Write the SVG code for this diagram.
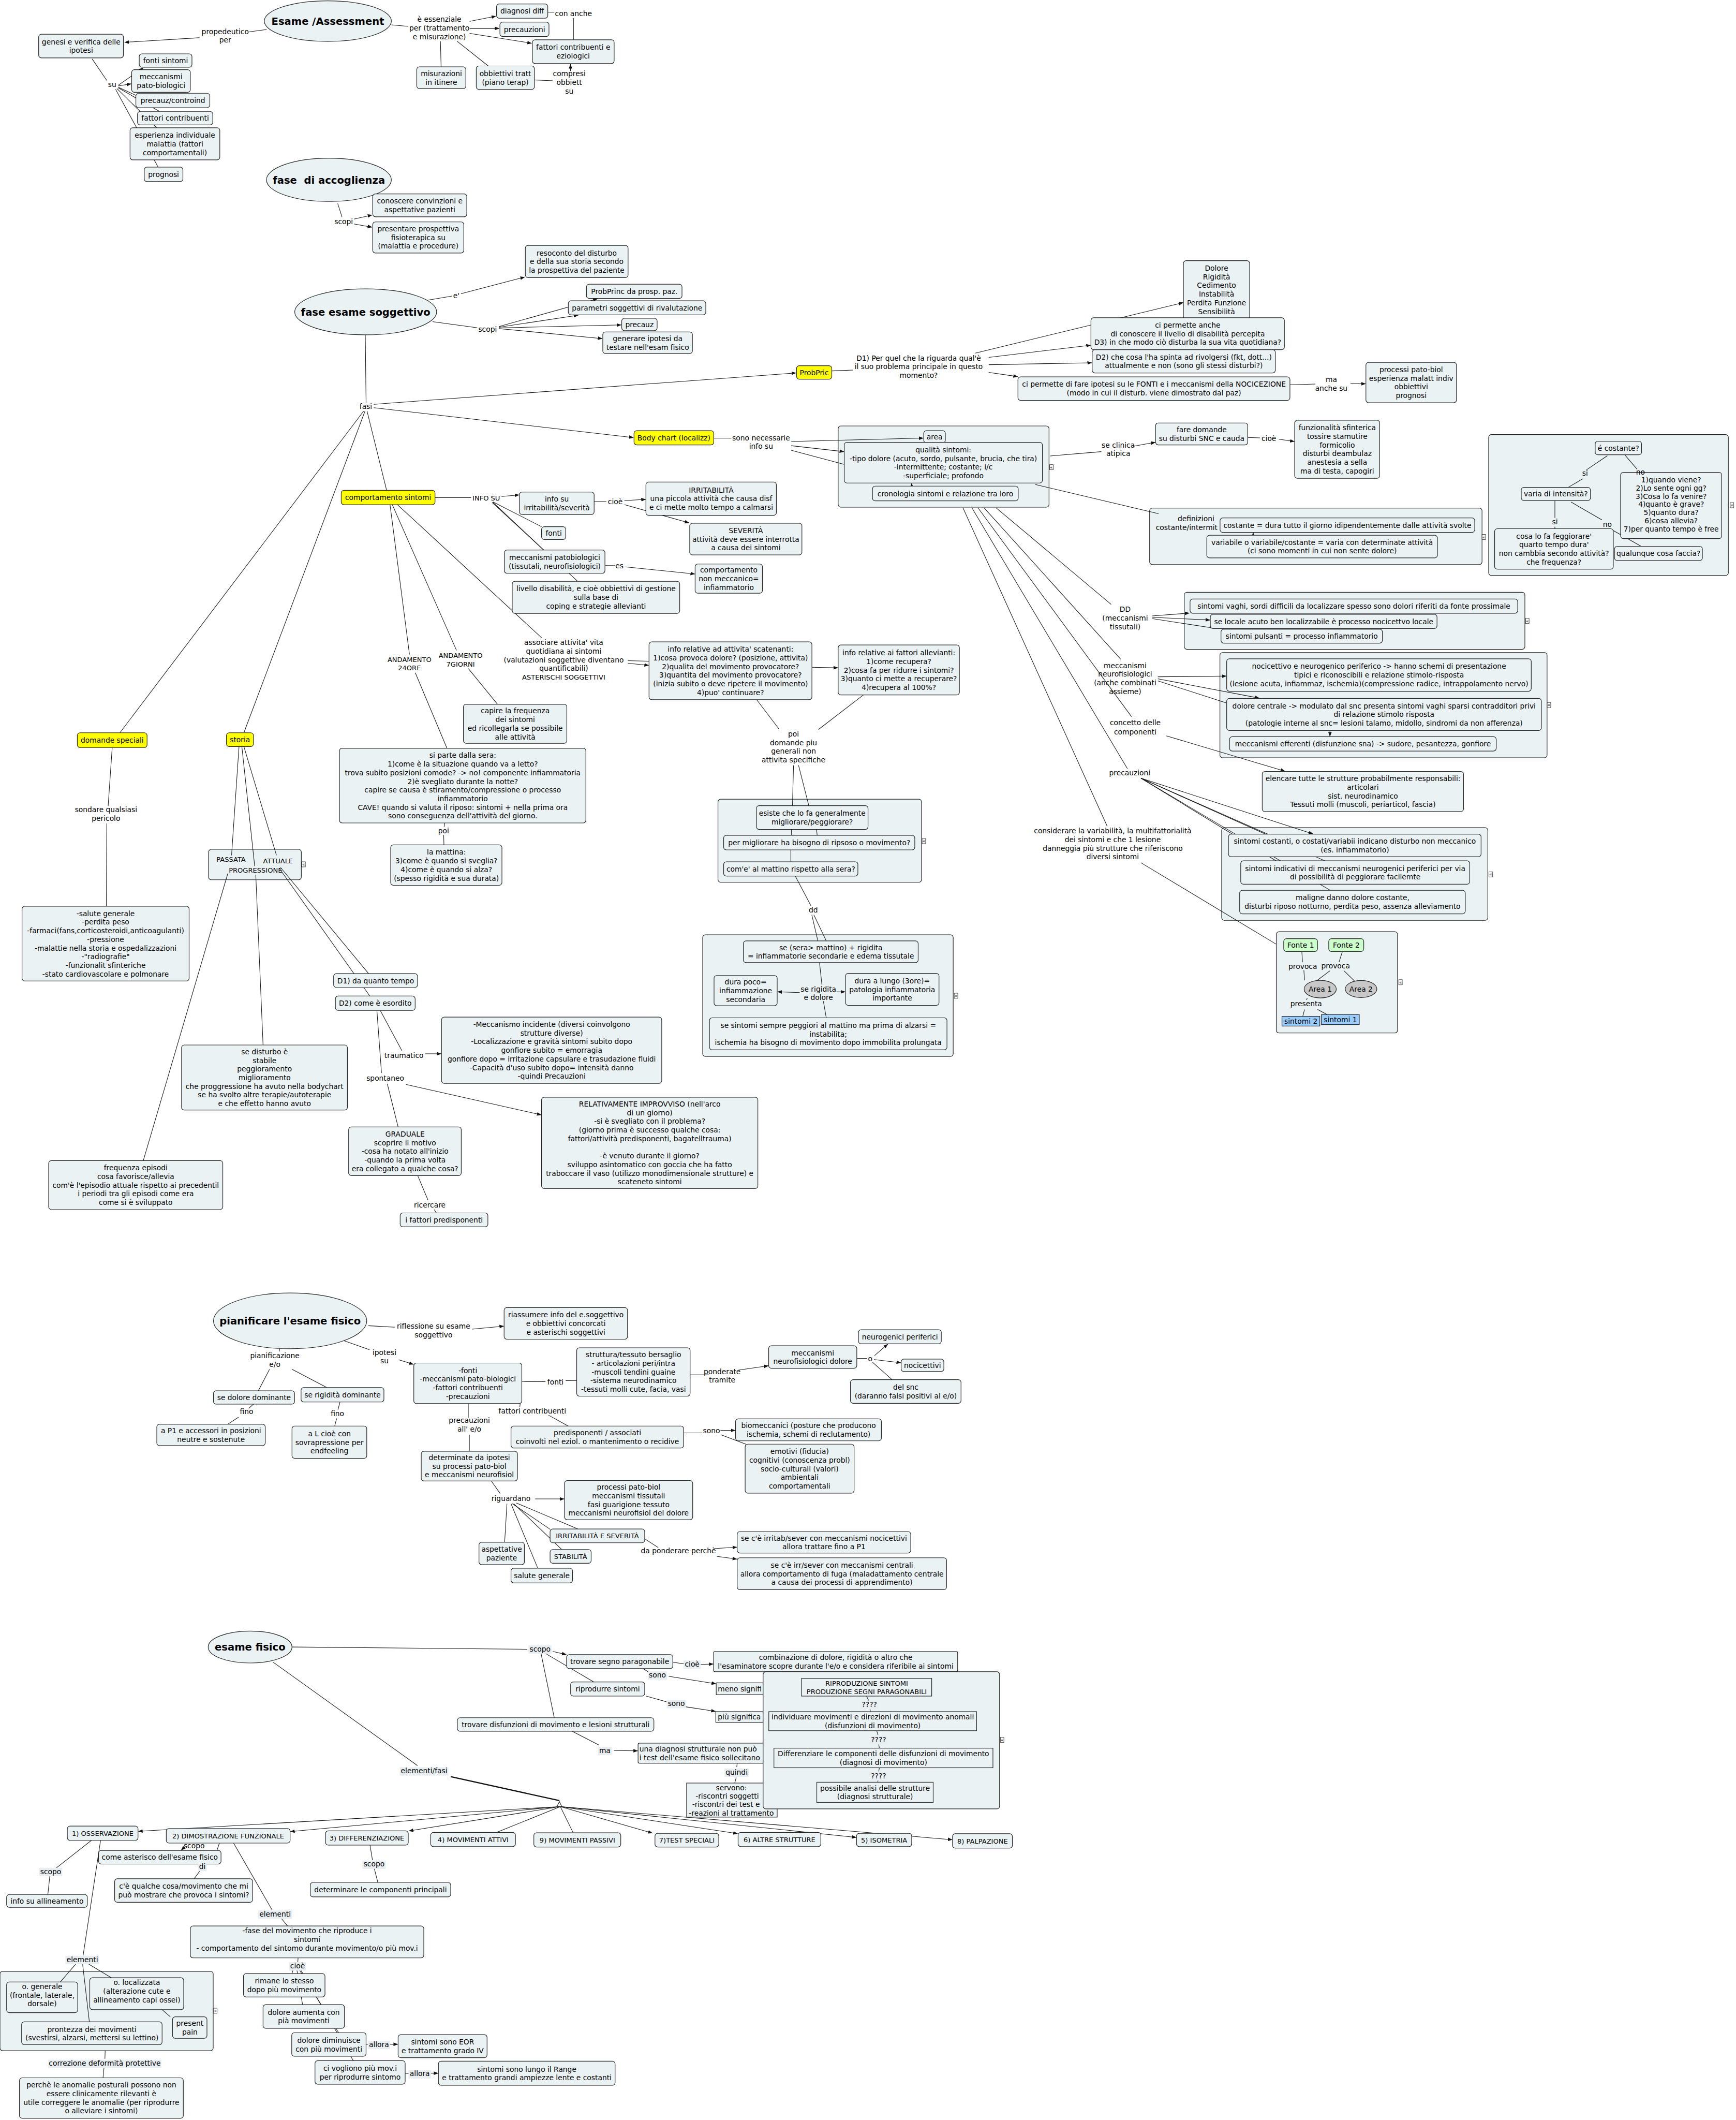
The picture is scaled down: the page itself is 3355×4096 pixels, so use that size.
<svg xmlns="http://www.w3.org/2000/svg" xmlns:xlink="http://www.w3.org/1999/xlink" width="3355" height="4096" viewBox="0 0 3355 4096">
<style>
text{font-family:"DejaVu Sans",sans-serif;font-size:5.3px;text-anchor:middle;fill:#000}
.k{font-size:5px}
.ti{font-size:7.5px;font-weight:bold}
.nd rect,.nd ellipse{fill:#ebf2f4;stroke:#222;stroke-width:0.45}
.cn{fill:#ebf2f4;stroke:#222;stroke-width:0.45}
.yl rect{fill:#ffff00}
.gr rect{fill:#ccffcc}
.bl rect{fill:#99ccff}
.ga ellipse{fill:#c8c8c8}
.lbg{fill:#e8eef1;stroke:none}
#connectors path,#connectors_inner path{fill:none;stroke:#111;stroke-width:0.4}
#connectors .ar path{marker-end:url(#ah)}
#connectors .thick{stroke-width:0.9}
</style>
<defs>
<marker id="ah" viewBox="0 0 10 10" refX="9.5" refY="5" markerWidth="3.4" markerHeight="3.4" markerUnits="userSpaceOnUse" orient="auto"><path d="M0,1.2 L10,5 L0,8.8 z" fill="#111"/></marker>
<g id="col"><rect x="-1.3" y="-1.9" width="2.6" height="3.8" fill="#fff" stroke="#222" stroke-width="0.3"/><text x="0" y="1.2" style="font-size:3.4px">«</text></g>
</defs>
<rect width="3355" height="4096" fill="#fff"/>
<g transform="scale(2.6126)">

<!-- containers -->
<g id="containers">
<g id="c_area"><rect class="cn" x="620" y="315" width="156" height="60.1" rx="2"/><use xlink:href="#col" x="777.8" y="345.5"/></g>
<g id="c_def"><rect class="cn" x="850.4" y="375.7" width="245.9" height="41.8" rx="2"/><use xlink:href="#col" x="1097.6" y="397.1"/><text x="884.7" y="385.6">definizioni</text><text x="855" y="391.8" style="text-anchor:start">costante/intermit</text></g>
<g id="c_costante"><rect class="cn" x="1101.2" y="321.4" width="177.3" height="104.2" rx="2"/><use xlink:href="#col" x="1281.2" y="373.6"/></g>
<g id="c_dd"><rect class="cn" x="876" y="438" width="252" height="42.2" rx="2"/><use xlink:href="#col" x="1129.8" y="459.2"/></g>
<g id="c_mecc"><rect class="cn" x="902.4" y="482.6" width="242" height="77.8" rx="2"/><use xlink:href="#col" x="1145.8" y="521.4"/></g>
<g id="c_prec"><rect class="cn" x="903.7" y="612.1" width="196.9" height="68.5" rx="2"/><use xlink:href="#col" x="1102.7" y="646.6"/></g>
<g id="c_fonte"><rect class="cn" x="944.1" y="689" width="89.7" height="74.9" rx="2"/><use xlink:href="#col" x="1036" y="726.4"/></g>
<g id="c_esiste"><rect class="cn" x="531.1" y="591" width="150.6" height="61.5" rx="2"/><use xlink:href="#col" x="683.4" y="622"/></g>
<g id="c_dd2"><rect class="cn" x="519.8" y="691.3" width="185.3" height="90" rx="2"/><use xlink:href="#col" x="707.2" y="736.4"/></g>
<g id="c_passata"><rect class="cn" x="154.3" y="628.1" width="68.6" height="22.5" rx="2"/><use xlink:href="#col" x="224.6" y="639.2"/></g>
<g id="c_elementi"><rect class="cn" x="0" y="1457.8" width="157.7" height="58.7" rx="2"/><use xlink:href="#col" x="159.3" y="1487"/></g>
</g>

<!-- connectors -->
<g id="connectors">
<g class="ln">
<path d="M197.3,21.8L184.4,23.5"/><path d="M68.2,43.6L79,59.5"/><path d="M87.5,64.5L100.5,70.5"/><path d="M87.5,65L118,82.4"/><path d="M86.5,65.5L116,94.5"/><path d="M85.5,66L117,123.6"/>
<path d="M289.6,18.4L302,19.5"/><path d="M325.8,30.5L326.3,49.4"/><path d="M338,30.4L361.2,48.8"/><path d="M405.2,9L410,9"/><path d="M424.2,13.4L424.2,29.4"/><path d="M395.3,59.1L408.8,59.7"/>
<path d="M249.8,150.5L253,160.5"/><path d="M316.8,221.9L334.5,218.9"/><path d="M320,237.9L353,242.4"/><path d="M270.2,247.6L270.8,297.8"/>
<path d="M271.5,304L286,362.6"/><path d="M270,304L180.4,541.9"/><path d="M269,304L88.7,541.9"/>
<path d="M615.3,274.3L631,273.7"/><path d="M954.2,284.6L973,284"/><path d="M528,324L541,324"/><path d="M585.3,333L624.5,343.4"/><path d="M776.9,337.2L814.7,334"/><path d="M923,323.5L932,323.8"/><path d="M765.7,358.3L857,379.9"/>
<path d="M1189,337L1173.5,347.5"/><path d="M1171,354L1160,360.4"/><path d="M1202,336.5L1211,347"/><path d="M1150.2,370.2L1150.2,383"/><path d="M1150.2,389.5L1150.2,391"/><path d="M1162.2,371.3L1185,384.5"/><path d="M1191,391L1214,404"/>
<path d="M736.8,375.5L822,447"/><path d="M727.9,375.5L829,487.5"/><path d="M723.4,375.5L837,530"/><path d="M718.9,375.5L834,568.5"/><path d="M712.3,375.5L819,611"/>
<path d="M852.4,457.5L897,464.4"/><path d="M856.5,503.5L907,519.8"/>
<path d="M844,575.5L944,636.6"/><path d="M844,575.5L980,636.6"/><path d="M844,575.5L984,658.4"/><path d="M844,575.5L937.9,616.9"/><path d="M844,638L944.1,698.3"/>
<path d="M963,703.7L963.5,711.5"/><path d="M964.5,717.5L965,725"/><path d="M993,703.7L990.5,711.5"/><path d="M983.8,717.9L973.3,725.8"/><path d="M994.2,717.9L1002,725.5"/><path d="M967,738L966.5,739.5"/><path d="M965,746.5L963.7,751.6"/><path d="M974.6,746.5L981.7,750.3"/>
<path d="M321.8,368L348.5,368"/><path d="M364.7,371.2L400.6,389.5"/><path d="M364.7,371.5L402.1,406.7"/><path d="M364,371.5L427.3,429.9"/><path d="M439.5,371L448.5,371"/><path d="M447.5,418.3L455,418.3"/>
<path d="M288.5,373.2L302.9,484"/><path d="M290.2,373.2L337.7,481"/><path d="M294,373.2L400.6,471.6"/><path d="M307.2,497.5L330.6,553.3"/><path d="M346.5,494.5L368,520.8"/><path d="M329,608.6L328.5,611.5"/><path d="M328.2,617.5L328.4,624.8"/>
<path d="M464.5,488.6L480,489"/><path d="M559.7,517.4L576.3,539.2"/><path d="M638.7,513.9L605.4,539.5"/><path d="M587,566L586.2,595.8"/><path d="M590.7,566L598.3,595.8"/>
<path d="M585.5,613.4L585.5,617.7"/><path d="M604,613.4L604.5,617.7"/><path d="M585,628.5L585,637.3"/><path d="M588.3,647.9L599.9,669.8"/><path d="M602,676.5L611.2,695.8"/><path d="M600.5,676.5L605,695.8"/><path d="M606.2,711.9L608,728.3"/><path d="M609.1,740.5L611.2,752.7"/>
<path d="M83,552.8L80,596"/><path d="M79,609L78.7,670.2"/><path d="M176.8,552.1L171.3,632.5"/><path d="M168.5,646L106,858.3"/><path d="M178.9,552.1L188.4,640.5"/><path d="M189.2,647L194.6,772.8"/><path d="M180.4,552.1L204.5,632.5"/><path d="M207.5,641.5L272.7,720"/><path d="M206.5,642L273.6,736.6"/>
<path d="M281.3,747.2L297.3,777"/><path d="M278.8,747.2L282.2,793.5"/><path d="M286.5,801.5L294.5,833.4"/><path d="M309,869.4L316.6,887.5"/><path d="M321.2,894.5L322.8,897"/>
<path d="M272.5,980.4L292,981.5"/><path d="M206.9,997.3L206.5,999.5"/><path d="M199.4,1012.6L191.1,1028.5"/><path d="M216,1012.6L241.7,1026.1"/><path d="M187.5,1038.4L184,1041.5"/><path d="M176.4,1048.1L168.5,1053.2"/><path d="M251.5,1036.8L250,1042.5"/><path d="M249,1049L247.6,1054.6"/>
<path d="M253.5,991.2L273.3,998.1"/><path d="M386,1021.6L403.5,1021.8"/><path d="M418.5,1021L426.6,1020.9"/><path d="M510.5,1016.7L524.5,1016.7"/><path d="M633.8,1004.6L641.5,1004.6"/><path d="M645.5,1007.5L659.9,1020.3"/>
<path d="M384.8,1038L384.5,1040.5"/><path d="M405.7,1046.5L420.3,1054.6"/><path d="M346.4,1038L346.4,1048.5"/><path d="M347.2,1061L347.2,1073.2"/><path d="M505.7,1059.7L519.5,1059.7"/><path d="M533.5,1061.1L552,1068.1"/>
<path d="M363.4,1095.2L370,1104.5"/><path d="M375,1112L373.3,1140.5"/><path d="M378,1112L397.8,1159.7"/><path d="M380,1112L415.6,1145.9"/><path d="M382,1111.5L427.4,1130.7"/><path d="M379,1112L407,1131"/><path d="M476.9,1138L487,1144.5"/>
<path d="M216,1218L390,1219.7"/><path d="M400.2,1222.7L410,1270.3"/><path d="M403,1222.5L439.1,1243.8"/><path d="M497.7,1229.2L506,1230.5"/><path d="M475.8,1234L480.5,1237"/><path d="M478,1254.3L493,1258.5"/><path d="M423.3,1280.3L443,1290.5"/>
<path d="M545.3,1303.9L545,1306.8"/><path d="M544.6,1314.5L543.5,1318.6"/>
<path d="M202,1229.2L308.8,1305.7"/><path class="thick" d="M333.4,1313.9L413.8,1331.6"/><path d="M414.5,1336L367.4,1355.1"/><path d="M414.5,1336L424,1355.4"/>
<path d="M67.6,1361L41.5,1381.5"/><path d="M37,1386L35.4,1401"/><path d="M74.4,1361L61.5,1446"/><path d="M56.9,1451.5L44.6,1465.7"/><path d="M64,1451.5L82.4,1462.6"/><path d="M61,1451.5L66.1,1495.2"/><path d="M119.9,1486.2L126,1491.5"/><path d="M77.8,1516.5L77.6,1522.5"/><path d="M77,1528.5L76.2,1536.6"/>
<path d="M162.3,1363L160.5,1368.4"/><path d="M149,1382L143.6,1389.4"/><path d="M172.8,1363L201.3,1412.5"/><path d="M208.1,1418.7L212.7,1424.3"/><path d="M220.5,1447.9L220.3,1451"/><path d="M217,1456L216,1459.5"/><path d="M219.5,1456L223.8,1482.5"/><path d="M221,1456L250.5,1503.2"/><path d="M222,1456L261.3,1523.9"/>
<path d="M270.8,1511.8L272.8,1511.8"/><path d="M299.7,1533.3L302.5,1533.3"/><path d="M273.7,1364.5L275.5,1375.5"/><path d="M276.8,1381.5L279.5,1392.1"/>
<path d="M413.8,1332.3L411.9,1336.2L415.7,1336.2z" fill="#fff"/>
</g>
<g class="ar">
<path d="M147.6,27.9L92.2,31.3"/><path d="M87.5,63L106,50.2"/><path d="M87.5,63.5L97,62"/>
<path d="M347.4,15.8L366.8,12"/><path d="M347.4,21L369.3,21"/><path d="M347.4,24.7L393.3,32"/><path d="M422,52.5L422,47.5"/>
<path d="M261.9,162L275.2,159"/><path d="M261.9,165.6L275.2,168"/><path d="M341,217.2L388.1,204.9"/>
<path d="M369,241.5L441.9,221"/><path d="M369,242L427.7,233.1"/><path d="M369,242.5L459.5,240.3"/><path d="M369,243L445.5,250.4"/>
<path d="M276.5,299L588.8,275.8"/><path d="M276.5,301.5L468.6,323.6"/>
<path d="M721.5,261.1L875.2,223.8"/><path d="M731.4,264.3L806.8,255.3"/><path d="M731.4,269.7L807.6,268.3"/><path d="M731.4,275.4L752.8,278.5"/><path d="M999,283.8L1010.2,283.8"/>
<path d="M585.3,326.5L683,324"/><path d="M585.3,329.6L624.3,334"/><path d="M838.3,330L854.6,327.1"/><path d="M946,324.8L957.5,326.5"/><path d="M674.4,361L674.4,357.4"/><path d="M927,396.5L927,393.9"/>
<path d="M852.4,455.5L879.8,453.4"/><path d="M852.4,456.5L895,458.5"/><path d="M856.5,500.5L907.2,500"/><path d="M856.5,502L931.6,516.3"/><path d="M983.8,539.5L983.8,544.6"/><path d="M862.8,544.2L950.4,570.3"/><path d="M844,575.5L971.3,616.7"/>
<path d="M371,367.2L384,366"/><path d="M461.9,370.2L477.6,369.3"/><path d="M461.9,373.2L509.8,386.7"/><path d="M462.7,419.2L514,424.5"/>
<path d="M464.5,490.5L479.9,492"/><path d="M600.6,493.5L619.8,493.9"/><path d="M591.6,734L575.2,733.5"/><path d="M618.7,733.5L625.2,733.5"/>
<path d="M314.5,779.3L326.4,779.3"/><path d="M300.3,802L400.4,824.5"/>
<path d="M349.2,982.9L372.7,980.7"/><path d="M295,1005.6L305.9,1009"/><path d="M546,1013.3L568.4,1010"/><path d="M646.9,1002.5L656.7,994"/><path d="M646.5,1005.4L666.4,1007.8"/><path d="M533,1057.8L543.9,1057.8"/><path d="M395.8,1108.5L417.4,1108.5"/><path d="M528.3,1145.2L545.1,1144.2"/><path d="M530.2,1151L545.1,1153"/>
<path d="M408.9,1221.3L418.9,1223.6"/><path d="M518.4,1230.9L527.7,1230.6"/><path d="M494.7,1239.7L529.6,1245.2"/><path d="M507.1,1262.2L529.3,1265.6"/><path d="M454.2,1294.6L471.8,1294.8"/>
<path d="M414.5,1336L102.3,1354.3"/><path d="M414.5,1336L214.8,1354.5"/><path d="M414.5,1336L302.5,1354"/><path d="M414.5,1336L482.6,1355.6"/><path d="M414.5,1336L545.6,1356"/><path d="M414.5,1336L633.4,1358.8"/><path d="M414.5,1336L704.4,1360.5"/>
<path d="M137,1365.5L134,1368.3"/><path d="M288.2,1511.8L294.3,1511.8"/><path d="M318.2,1533.2L324.1,1533.2"/>
</g>
</g>

<!-- nodes -->
<g id="nodes">
<g id="n_esame" class="nd"><ellipse cx="242.5" cy="15.6" rx="47" ry="15"/><text class="ti" x="242.5" y="18.3">Esame /Assessment</text></g>
<g id="n_genesi" class="nd"><rect x="28.6" y="25.3" width="62.7" height="17.5" rx="2"/><text x="60" y="32.8">genesi e verifica delle<tspan x="60" dy="6.4">ipotesi</tspan></text></g>
<g id="n_fontisint" class="nd"><rect x="103" y="39.8" width="39" height="9.9" rx="2"/><text x="122.5" y="46.6">fonti sintomi</text></g>
<g id="n_meccpb" class="nd"><rect x="97.4" y="51.5" width="43.4" height="16.8" rx="2"/><text x="119.1" y="58.6">meccanismi<tspan x="119.1" dy="6.4">pato-biologici</tspan></text></g>
<g id="n_precauzc" class="nd"><rect x="100.5" y="69" width="54.7" height="10.6" rx="2"/><text x="127.9" y="76.2">precauz/controind</text></g>
<g id="n_fattoric" class="nd"><rect x="101.7" y="82.4" width="55.7" height="10" rx="2"/><text x="129.6" y="89.3">fattori contribuenti</text></g>
<g id="n_esperienza" class="nd"><rect x="96.2" y="94.5" width="66.4" height="23.7" rx="2"/><text x="129.4" y="101.9">esperienza individuale<tspan x="129.4" dy="6.4">malattia (fattori</tspan><tspan x="129.4" dy="6.4">comportamentali)</tspan></text></g>
<g id="n_prognosi" class="nd"><rect x="106.7" y="123.6" width="28.6" height="10.7" rx="2"/><text x="121" y="130.9">prognosi</text></g>
<g id="n_diagnosi" class="nd"><rect x="367.3" y="2.9" width="37.9" height="10.6" rx="2"/><text x="386.3" y="10.1">diagnosi diff</text></g>
<g id="n_precauzioni" class="nd"><rect x="369.8" y="16.3" width="36.3" height="10.7" rx="2"/><text x="388" y="23.6">precauzioni</text></g>
<g id="n_fattoriez" class="nd"><rect x="393.8" y="29.4" width="60.5" height="17.6" rx="2"/><text x="424" y="36.9">fattori contribuenti e<tspan x="424" dy="6.4">eziologici</tspan></text></g>
<g id="n_misurazioni" class="nd"><rect x="308.3" y="49.4" width="36.3" height="16.2" rx="2"/><text x="326.5" y="56.2">misurazioni<tspan x="326.5" dy="6.4">in itinere</tspan></text></g>
<g id="n_obbiettivi" class="nd"><rect x="352.3" y="48.8" width="43" height="17.4" rx="2"/><text x="373.8" y="56.2">obbiettivi tratt<tspan x="373.8" dy="6.4">(piano terap)</tspan></text></g>

<g id="n_accoglienza" class="nd"><ellipse cx="243.3" cy="133" rx="46.2" ry="16"/><text class="ti" x="243.3" y="135.7" xml:space="preserve">fase  di accoglienza</text></g>
<g id="n_conoscere" class="nd"><rect x="275.7" y="143.4" width="69.6" height="16.9" rx="2"/><text x="310.5" y="150.6">conoscere convinzioni e<tspan x="310.5" dy="6.4">aspettative pazienti</tspan></text></g>
<g id="n_presentare" class="nd"><rect x="275.7" y="164.1" width="67.4" height="23" rx="2"/><text x="309.4" y="171.1">presentare prospettiva<tspan x="309.4" dy="6.4">fisioterapica su</tspan><tspan x="309.4" dy="6.4">(malattia e procedure)</tspan></text></g>

<g id="n_soggettivo" class="nd"><ellipse cx="270.5" cy="230.6" rx="52.5" ry="17"/><text class="ti" x="270.5" y="233.3">fase esame soggettivo</text></g>
<g id="n_resoconto" class="nd"><rect x="388.6" y="181.5" width="76" height="23.8" rx="2"/><text x="426.6" y="188.9">resoconto del disturbo<tspan x="426.6" dy="6.4">e della sua storia secondo</tspan><tspan x="426.6" dy="6.4">la prospettiva del paziente</tspan></text></g>
<g id="n_probprinc" class="nd"><rect x="433.8" y="210.2" width="70.7" height="10.5" rx="2"/><text x="469.2" y="217.4">ProbPrinc da prosp. paz.</text></g>
<g id="n_parametri" class="nd"><rect x="420.4" y="222.4" width="101.7" height="10.4" rx="2"/><text x="471.3" y="229.5">parametri soggettivi di rivalutazione</text></g>
<g id="n_precauz2" class="nd"><rect x="459.9" y="235.4" width="26.2" height="9.1" rx="2"/><text x="473" y="241.9">precauz</text></g>
<g id="n_generare" class="nd"><rect x="445.9" y="245.5" width="66.3" height="16" rx="2"/><text x="479.1" y="252.2">generare ipotesi da<tspan x="479.1" dy="6.4">testare nell'esam fisico</tspan></text></g>

<g id="n_probpric" class="nd yl"><rect x="589.2" y="270.5" width="26.1" height="9.9" rx="2"/><text x="602.3" y="277.4">ProbPric</text></g>
<g id="n_dolore" class="nd"><rect x="875.4" y="192.8" width="49" height="48" rx="2"/><text x="899.9" y="200.2">Dolore<tspan x="899.9" dy="6.4">Rigidità</tspan><tspan x="899.9" dy="6.4">Cedimento</tspan><tspan x="899.9" dy="6.4">Instabilità</tspan><tspan x="899.9" dy="6.4">Perdita Funzione</tspan><tspan x="899.9" dy="6.4">Sensibilità</tspan></text></g>
<g id="n_cipermette" class="nd"><rect x="807" y="235" width="143.1" height="23.6" rx="2"/><text x="878.6" y="242.3">ci permette anche<tspan x="878.6" dy="6.4">di conoscere il livello di disabilità percepita</tspan><tspan x="878.6" dy="6.4">D3) in che modo ciò disturba la sua vita quotidiana?</tspan></text></g>
<g id="n_d2" class="nd"><rect x="807.9" y="258.6" width="135.5" height="17.2" rx="2"/><text x="875.7" y="265.9">D2) che cosa l'ha spinta ad rivolgersi (fkt, dott...)<tspan x="875.7" dy="6.4">attualmente e non (sono gli stessi disturbi?)</tspan></text></g>
<g id="n_ipofonti" class="nd"><rect x="753" y="278.7" width="201.2" height="17.4" rx="2"/><text x="853.6" y="286.1">ci permette di fare ipotesi su le FONTI e i meccanismi della NOCICEZIONE<tspan x="853.6" dy="6.4">(modo in cui il disturb. viene dimostrato dal paz)</tspan></text></g>
<g id="n_processi" class="nd"><rect x="1010.4" y="268" width="67" height="29.8" rx="2"/><text x="1043.9" y="275.2">processi pato-biol<tspan x="1043.9" dy="6.4">esperienza malatt indiv</tspan><tspan x="1043.9" dy="6.4">obbiettivi</tspan><tspan x="1043.9" dy="6.4">prognosi</tspan></text></g>

<g id="n_bodychart" class="nd yl"><rect x="469" y="318.5" width="59" height="10.5" rx="2"/><text x="498.5" y="325.7">Body chart (localizz)</text></g>
<g id="n_area" class="nd"><rect x="683.3" y="318.5" width="16" height="9" rx="2"/><text x="691.3" y="325">area</text></g>
<g id="n_qualita" class="nd"><rect x="624.5" y="327.1" width="146.6" height="30.1" rx="2"/><text x="697.8" y="334.5">qualità sintomi:<tspan x="697.8" dy="6.4">-tipo dolore (acuto, sordo, pulsante, brucia, che tira)</tspan><tspan x="697.8" dy="6.4">-intermittente; costante; i/c</tspan><tspan x="697.8" dy="6.4">-superficiale; profondo</tspan></text></g>
<g id="n_cronologia" class="nd"><rect x="645.4" y="359.5" width="107.8" height="10.9" rx="2"/><text x="699.3" y="366.9">cronologia sintomi e relazione tra loro</text></g>
<g id="n_fare" class="nd"><rect x="854.8" y="312.8" width="68.2" height="16.2" rx="2"/><text x="888.9" y="319.6">fare domande<tspan x="888.9" dy="6.4">su disturbi SNC e cauda</tspan></text></g>
<g id="n_funz" class="nd"><rect x="957.7" y="310.8" width="62.9" height="42.9" rx="2"/><text x="989.2" y="318.2">funzionalità sfinterica<tspan x="989.2" dy="6.4">tossire stamutire</tspan><tspan x="989.2" dy="6.4">formicolio</tspan><tspan x="989.2" dy="6.4">disturbi deambulaz</tspan><tspan x="989.2" dy="6.4">anestesia a sella</tspan><tspan x="989.2" dy="6.4">ma di testa, capogiri</tspan></text></g>
<g id="n_costante" class="nd"><rect x="902.5" y="383" width="188.4" height="10.7" rx="2"/><text x="996.7" y="390.3">costante = dura tutto il giorno idipendentemente dalle attività svolte</text></g>
<g id="n_variabile" class="nd"><rect x="892.7" y="395.8" width="170.6" height="16.8" rx="2"/><text x="978" y="402.9">variabile o variabile/costante = varia con determinate attività<tspan x="978" dy="6.4">(ci sono momenti in cui non sente dolore)</tspan></text></g>
<g id="n_ecostante" class="nd"><rect x="1180" y="326.3" width="34.3" height="10" rx="2"/><text x="1197.2" y="333.2">é costante?</text></g>
<g id="n_questions" class="nd"><rect x="1198.8" y="349.3" width="74.8" height="49" rx="2"/><text x="1236.2" y="356.6">1)quando viene?<tspan x="1236.2" dy="6.1">2)Lo sente ogni gg?</tspan><tspan x="1236.2" dy="6.1">3)Cosa lo fa venire?</tspan><tspan x="1236.2" dy="6.1">4)quanto è grave?</tspan><tspan x="1236.2" dy="6.1">5)quanto dura?</tspan><tspan x="1236.2" dy="6.1">6)cosa allevia?</tspan><tspan x="1236.2" dy="6.1">7)per quanto tempo è free</tspan></text></g>
<g id="n_varia" class="nd"><rect x="1125.3" y="360.4" width="51.2" height="9.8" rx="2"/><text x="1150.9" y="367.2">varia di intensità?</text></g>
<g id="n_cosalo" class="nd"><rect x="1105.6" y="391" width="87.8" height="29.9" rx="2"/><text x="1149.5" y="398.3">cosa lo fa feggiorare'<tspan x="1149.5" dy="6.4">quarto tempo dura'</tspan><tspan x="1149.5" dy="6.4">non cambbia secondo attività?</tspan><tspan x="1149.5" dy="6.4">che frequenza?</tspan></text></g>
<g id="n_qualunque" class="nd"><rect x="1194.3" y="404" width="65" height="10.6" rx="2"/><text x="1226.8" y="411.2">qualunque cosa faccia?</text></g>

<g id="n_vaghi" class="nd"><rect x="880.3" y="443" width="242.4" height="10.5" rx="2"/><text x="1001.5" y="450.2">sintomi vaghi, sordi difficili da localizzare spesso sono dolori riferiti da fonte prossimale</text></g>
<g id="n_locale" class="nd"><rect x="895.3" y="454.3" width="167.7" height="10.5" rx="2"/><text x="979.2" y="461.5">se locale acuto ben localizzabile è processo nocicettvo locale</text></g>
<g id="n_pulsanti" class="nd"><rect x="903.2" y="465.3" width="119.4" height="10.3" rx="2"/><text x="962.9" y="472.4">sintomi pulsanti = processo infiammatorio</text></g>
<g id="n_nocic" class="nd"><rect x="907.4" y="487.2" width="225.3" height="24" rx="2"/><text x="1020.1" y="494.7">nocicettivo e neurogenico periferico -&gt; hanno schemi di presentazione<tspan x="1020.1" dy="6.4">tipici e riconoscibili e relazione stimolo-risposta</tspan><tspan x="1020.1" dy="6.4">(lesione acuta, infiammaz, ischemia)(compressione radice, intrappolamento nervo)</tspan></text></g>
<g id="n_centrale" class="nd"><rect x="907.4" y="516.5" width="232.8" height="23.7" rx="2"/><text x="1023.8" y="523.9">dolore centrale -&gt; modulato dal snc presenta sintomi vaghi sparsi contradditori privi<tspan x="1023.8" dy="6.4">di relazione stimolo risposta</tspan><tspan x="1023.8" dy="6.4">(patologie interne al snc= lesioni talamo, midollo, sindromi da non afferenza)</tspan></text></g>
<g id="n_efferenti" class="nd"><rect x="909.5" y="544.8" width="197.3" height="10.6" rx="2"/><text x="1008.2" y="552">meccanismi efferenti (disfunzione sna) -&gt; sudore, pesantezza, gonfiore</text></g>
<g id="n_elencare" class="nd"><rect x="933.7" y="570.5" width="148.9" height="29.7" rx="2"/><text x="1008.2" y="577.7">elencare tutte le strutture probabilmente responsabili:<tspan x="1008.2" dy="6.4">articolari</tspan><tspan x="1008.2" dy="6.4">sist. neurodinamico</tspan><tspan x="1008.2" dy="6.4">Tessuti molli (muscoli, periarticol, fascia)</tspan></text></g>
<g id="n_costanti" class="nd"><rect x="908.7" y="616.9" width="186.9" height="16.7" rx="2"/><text x="1002.2" y="624">sintomi costanti, o costati/variabii indicano disturbo non meccanico<tspan x="1002.2" dy="6.4">(es. infiammatorio)</tspan></text></g>
<g id="n_indicativi" class="nd"><rect x="917.8" y="636.6" width="169.4" height="17.3" rx="2"/><text x="1002.5" y="644">sintomi indicativi di meccanismi neurogenici periferici per via<tspan x="1002.5" dy="6.4">di possibilità di peggiorare facilemte</tspan></text></g>
<g id="n_maligne" class="nd"><rect x="917" y="658.4" width="166.9" height="17.4" rx="2"/><text x="1000.5" y="665.8">maligne danno dolore costante,<tspan x="1000.5" dy="6.4">disturbi riposo notturno, perdita peso, assenza alleviamento</tspan></text></g>
<g id="n_fonte1" class="nd gr"><rect x="949.6" y="694.2" width="25" height="9.5" rx="2"/><text x="962.1" y="700.9">Fonte 1</text></g>
<g id="n_fonte2" class="nd gr"><rect x="982.9" y="694.2" width="25.9" height="9.5" rx="2"/><text x="995.9" y="700.9">Fonte  2</text></g>
<g id="n_area1" class="nd ga"><ellipse cx="976.6" cy="731.5" rx="11.9" ry="6.5"/><text x="976.6" y="733.4">Area 1</text></g>
<g id="n_area2" class="nd ga"><ellipse cx="1006.8" cy="731.4" rx="11.7" ry="6.3"/><text x="1006.8" y="733.3">Area 2</text></g>
<g id="n_sint2" class="nd bl"><rect x="948.3" y="751.6" width="28" height="7.2"/><text x="962.3" y="757.1">sintomi 2</text></g>
<g id="n_sint1" class="nd bl"><rect x="977.5" y="750.3" width="28" height="7.4"/><text x="991.5" y="755.9">sintomi 1</text></g>

<g id="n_comp" class="nd yl"><rect x="252.4" y="362.6" width="69.4" height="10.6" rx="2"/><text x="287.1" y="369.8">comportamento sintomi</text></g>
<g id="n_infosu" class="nd"><rect x="384.2" y="363.9" width="55.3" height="16.6" rx="2"/><text x="411.9" y="370.9">info su<tspan x="411.9" dy="6.4">irritabilità/severità</tspan></text></g>
<g id="n_irrit" class="nd"><rect x="477.8" y="356.5" width="96.5" height="24.6" rx="2"/><text x="526.1" y="364.3">IRRITABILITÀ<tspan x="526.1" dy="6.4">una piccola attività che causa disf</tspan><tspan x="526.1" dy="6.4">e ci mette molto tempo a calmarsi</tspan></text></g>
<g id="n_sever" class="nd"><rect x="510.2" y="386.9" width="83" height="23.5" rx="2"/><text x="551.7" y="394.2">SEVERITÀ<tspan x="551.7" dy="6.4">attività deve essere interrotta</tspan><tspan x="551.7" dy="6.4">a causa dei sintomi</tspan></text></g>
<g id="n_fonti2" class="nd"><rect x="400.6" y="389.5" width="17.9" height="9.5" rx="2"/><text x="409.6" y="396.2">fonti</text></g>
<g id="n_meccpat" class="nd"><rect x="373.1" y="406.7" width="74.4" height="17.3" rx="2"/><text x="410.3" y="414.1">meccanismi patobiologici<tspan x="410.3" dy="6.4">(tissutali, neurofisiologici)</tspan></text></g>
<g id="n_compnm" class="nd"><rect x="514.2" y="417.1" width="49.8" height="21.6" rx="2"/><text x="539.1" y="423.4">comportamento<tspan x="539.1" dy="6.4">non meccanico=</tspan><tspan x="539.1" dy="6.4">infiammatorio</tspan></text></g>
<g id="n_livello" class="nd"><rect x="378.9" y="429.9" width="123.9" height="23.7" rx="2"/><text x="440.9" y="437.3">livello disabilità, e cioè obbiettivi di gestione<tspan x="440.9" dy="6.4">sulla base di</tspan><tspan x="440.9" dy="6.4">coping e strategie allevianti</tspan></text></g>
<g id="n_capire" class="nd"><rect x="342.8" y="520.8" width="76.5" height="28.9" rx="2"/><text x="381.1" y="527.6">capire la frequenza<tspan x="381.1" dy="6.4">dei sintomi</tspan><tspan x="381.1" dy="6.4">ed ricollegarla se possibile</tspan><tspan x="381.1" dy="6.4">alle attività</tspan></text></g>
<g id="n_siparte" class="nd"><rect x="251.1" y="553.3" width="182.3" height="55.3" rx="2"/><text x="342.3" y="560.5">si parte dalla sera:<tspan x="342.3" dy="6.4">1)come è la situazione quando va a letto?</tspan><tspan x="342.3" dy="6.4">trova subito posizioni comode? -&gt; no! componente infiammatoria</tspan><tspan x="342.3" dy="6.4">2)è svegliato durante la notte?</tspan><tspan x="342.3" dy="6.4">capire se causa è stiramento/compressione o processo</tspan><tspan x="342.3" dy="6.4">infiammatorio</tspan><tspan x="342.3" dy="6.4">CAVE! quando si valuta il riposo: sintomi + nella prima ora</tspan><tspan x="342.3" dy="6.4">sono conseguenza dell'attività del giorno.</tspan></text></g>
<g id="n_mattina" class="nd"><rect x="289" y="624.8" width="82.3" height="29.9" rx="2"/><text x="330.2" y="632.1">la mattina:<tspan x="330.2" dy="6.4">3)come è quando si sveglia?</tspan><tspan x="330.2" dy="6.4">4)come è quando si alza?</tspan><tspan x="330.2" dy="6.4">(spesso rigidità e sua durata)</tspan></text></g>
<g id="n_scaten" class="nd"><rect x="480.1" y="474.7" width="120.5" height="42.7" rx="2"/><text x="540.4" y="482">info relative ad attivita' scatenanti:<tspan x="540.4" dy="6.4">1)cosa provoca dolore? (posizione, attivita)</tspan><tspan x="540.4" dy="6.4">2)qualita del movimento provocatore?</tspan><tspan x="540.4" dy="6.4">3)quantita del movimento provocatore?</tspan><tspan x="540.4" dy="6.4">(inizia subito o deve ripetere il movimento)</tspan><tspan x="540.4" dy="6.4">4)puo' continuare?</tspan></text></g>
<g id="n_allev" class="nd"><rect x="620" y="477" width="89.7" height="36.9" rx="2"/><text x="664.9" y="484.6">info relative ai fattori allevianti:<tspan x="664.9" dy="6.4">1)come recupera?</tspan><tspan x="664.9" dy="6.4">2)cosa fa per ridurre i sintomi?</tspan><tspan x="664.9" dy="6.4">3)quanto ci mette a recuperare?</tspan><tspan x="664.9" dy="6.4">4)recupera al 100%?</tspan></text></g>
<g id="n_esiste" class="nd"><rect x="559.5" y="595.8" width="82.6" height="17.6" rx="2"/><text x="600.8" y="603.3">esiste che lo fa generalmente<tspan x="600.8" dy="6.4">migliorare/peggiorare?</tspan></text></g>
<g id="n_permigl" class="nd"><rect x="535.3" y="617.7" width="141.4" height="10.8" rx="2"/><text x="606" y="625">per migliorare ha bisogno di ripsoso o movimento?</text></g>
<g id="n_mattino" class="nd"><rect x="535.3" y="637.3" width="99.3" height="10.6" rx="2"/><text x="585" y="644.5">com'e' al mattino rispetto alla sera?</text></g>
<g id="n_sera" class="nd"><rect x="549.9" y="695.8" width="129.3" height="16.1" rx="2"/><text x="614.6" y="702.6">se (sera&gt; mattino) + rigidita<tspan x="614.6" dy="6.4">= infiammatorie secondarie e edema tissutale</tspan></text></g>
<g id="n_durapoco" class="nd"><rect x="528.2" y="721.4" width="46.7" height="22.3" rx="2"/><text x="551.6" y="728.1">dura poco=<tspan x="551.6" dy="6.4">infiammazione</tspan><tspan x="551.6" dy="6.4">secondaria</tspan></text></g>
<g id="n_duralungo" class="nd"><rect x="625.4" y="719.8" width="69.2" height="23.7" rx="2"/><text x="660" y="727.2">dura a lungo (3ore)=<tspan x="660" dy="6.4">patologia infiammatoria</tspan><tspan x="660" dy="6.4">importante</tspan></text></g>
<g id="n_sesintomi" class="nd"><rect x="524.8" y="752.7" width="175.7" height="23.7" rx="2"/><text x="612.7" y="760.1">se sintomi sempre peggiori al mattino ma prima di alzarsi =<tspan x="612.7" dy="6.4">instabilita;</tspan><tspan x="612.7" dy="6.4">ischemia ha bisogno di movimento dopo immobilita prolungata</tspan></text></g>

<g id="n_domande" class="nd yl"><rect x="57.2" y="541.9" width="51.6" height="10.9" rx="2"/><text x="83" y="549.3">domande speciali</text></g>
<g id="n_storia" class="nd yl"><rect x="167.5" y="541.9" width="20" height="10.2" rx="2"/><text x="177.5" y="548.9">storia</text></g>
<g id="n_salute" class="nd"><rect x="16.3" y="670.2" width="123.6" height="55.3" rx="2"/><text x="78.1" y="677.4">-salute generale<tspan x="78.1" dy="6.4">-perdita peso</tspan><tspan x="78.1" dy="6.4">-farmaci(fans,corticosteroidi,anticoagulanti)</tspan><tspan x="78.1" dy="6.4">-pressione</tspan><tspan x="78.1" dy="6.4">-malattie nella storia e ospedalizzazioni</tspan><tspan x="78.1" dy="6.4">-"radiografie"</tspan><tspan x="78.1" dy="6.4">-funzionalit sfinteriche</tspan><tspan x="78.1" dy="6.4">-stato cardiovascolare e polmonare</tspan></text></g>
<g id="n_passata"><text class="k" x="170.9" y="637.4">PASSATA</text></g>
<g id="n_attuale"><text class="k" x="205.7" y="638.5">ATTUALE</text></g>
<g id="n_progressione"><text class="k" x="189" y="645.5">PROGRESSIONE</text></g>
<g id="n_sedist" class="nd"><rect x="134.3" y="772.8" width="122.7" height="48.1" rx="2"/><text x="195.7" y="779.6">se disturbo è<tspan x="195.7" dy="6.4">stabile</tspan><tspan x="195.7" dy="6.4">peggioramento</tspan><tspan x="195.7" dy="6.4">miglioramento</tspan><tspan x="195.7" dy="6.4">che proggressione ha avuto nella bodychart</tspan><tspan x="195.7" dy="6.4">se ha svolto altre terapie/autoterapie</tspan><tspan x="195.7" dy="6.4">e che effetto hanno avuto</tspan></text></g>
<g id="n_freq" class="nd"><rect x="36" y="858.3" width="128.8" height="36.2" rx="2"/><text x="100.4" y="865.5">frequenza episodi<tspan x="100.4" dy="6.4">cosa favorisce/allevia</tspan><tspan x="100.4" dy="6.4">com'è l'episodio attuale rispetto ai precedentil</tspan><tspan x="100.4" dy="6.4">i periodi tra gli episodi come era</tspan><tspan x="100.4" dy="6.4">come si è sviluppato</tspan></text></g>
<g id="n_d1" class="nd"><rect x="246.8" y="720" width="62.1" height="10.3" rx="2"/><text x="277.9" y="727.1">D1) da quanto tempo</text></g>
<g id="n_d2b" class="nd"><rect x="248.1" y="736.6" width="59" height="10.6" rx="2"/><text x="277.6" y="743.8">D2) come è esordito</text></g>
<g id="n_meccinc" class="nd"><rect x="326.6" y="752.2" width="162.9" height="49" rx="2"/><text x="408.1" y="759.4">-Meccanismo incidente (diversi coinvolgono<tspan x="408.1" dy="6.4">strutture diverse)</tspan><tspan x="408.1" dy="6.4">-Localizzazione e gravità sintomi subito dopo</tspan><tspan x="408.1" dy="6.4">gonfiore subito = emorragia</tspan><tspan x="408.1" dy="6.4">gonfiore dopo = irritazione capsulare e trasudazione fluidi</tspan><tspan x="408.1" dy="6.4">-Capacità d'uso subito dopo= intensità danno</tspan><tspan x="408.1" dy="6.4">-quindi Precauzioni</tspan></text></g>
<g id="n_relativ" class="nd"><rect x="400.6" y="811.4" width="160" height="67.6" rx="2"/><text x="480.6" y="818.3">RELATIVAMENTE IMPROVVISO (nell'arco<tspan x="480.6" dy="6.4">di un giorno)</tspan><tspan x="480.6" dy="6.4">-si è svegliato con il problema?</tspan><tspan x="480.6" dy="6.4">(giorno prima è successo qualche cosa:</tspan><tspan x="480.6" dy="6.4">fattori/attività predisponenti, bagatelltrauma)</tspan><tspan x="480.6" dy="12.8">-è venuto durante il giorno?</tspan><tspan x="480.6" dy="6.4">sviluppo asintomatico con goccia che ha fatto</tspan><tspan x="480.6" dy="6.4">traboccare il vaso (utilizzo monodimensionale strutture) e</tspan><tspan x="480.6" dy="6.4">scateneto sintomi</tspan></text></g>
<g id="n_graduale" class="nd"><rect x="257.9" y="833.4" width="83.3" height="36" rx="2"/><text x="299.6" y="840.5">GRADUALE<tspan x="299.6" dy="6.4">scoprire il motivo</tspan><tspan x="299.6" dy="6.4">-cosa ha notato all'inizio</tspan><tspan x="299.6" dy="6.4">-quando la prima volta</tspan><tspan x="299.6" dy="6.4">era collegato a qualche cosa?</tspan></text></g>
<g id="n_fattpred" class="nd"><rect x="296" y="897" width="64.9" height="10.3" rx="2"/><text x="328.5" y="904.1">i fattori predisponenti</text></g>

<g id="n_pianificare" class="nd"><ellipse cx="214.6" cy="976.8" rx="56.7" ry="20.6"/><text class="ti" x="214.6" y="979.5">pianificare l'esame fisico</text></g>
<g id="n_riassumere" class="nd"><rect x="372.9" y="967" width="91.3" height="23.4" rx="2"/><text x="418.6" y="974.2">riassumere info del e.soggettivo<tspan x="418.6" dy="6.4">e obbiettivi concorcati</tspan><tspan x="418.6" dy="6.4">e asterischi soggettivi</tspan></text></g>
<g id="n_sedolore" class="nd"><rect x="157.9" y="1028.5" width="60" height="9.9" rx="2"/><text x="187.9" y="1035.4">se dolore dominante</text></g>
<g id="n_serigid" class="nd"><rect x="222.7" y="1026.1" width="61.3" height="10.7" rx="2"/><text x="253.4" y="1033.4">se rigidità dominante</text></g>
<g id="n_ap1" class="nd"><rect x="116" y="1053.2" width="80.2" height="15.9" rx="2"/><text x="156.1" y="1059.9">a P1 e accessori in posizioni<tspan x="156.1" dy="6.4">neutre e sostenute</tspan></text></g>
<g id="n_al" class="nd"><rect x="216" y="1054.6" width="55.3" height="23.9" rx="2"/><text x="243.7" y="1062.1">a L cioè con<tspan x="243.7" dy="6.4">sovrapressione per</tspan><tspan x="243.7" dy="6.4">endfeeling</tspan></text></g>
<g id="n_fontib" class="nd"><rect x="306.1" y="1008" width="79.9" height="30" rx="2"/><text x="346.1" y="1015.3">-fonti<tspan x="346.1" dy="6.4">-meccanismi pato-biologici</tspan><tspan x="346.1" dy="6.4">-fattori contribuenti</tspan><tspan x="346.1" dy="6.4">-precauzioni</tspan></text></g>
<g id="n_struttura" class="nd"><rect x="426.6" y="996.7" width="83.9" height="35.8" rx="2"/><text x="468.6" y="1003.7">struttura/tessuto bersaglio<tspan x="468.6" dy="6.4">- articolazioni peri/intra</tspan><tspan x="468.6" dy="6.4">-muscoli tendini guaine</tspan><tspan x="468.6" dy="6.4">-sistema neurodinamico</tspan><tspan x="468.6" dy="6.4">-tessuti molli cute, facia, vasi</tspan></text></g>
<g id="n_meccneu" class="nd"><rect x="568.6" y="995.2" width="65.2" height="16.7" rx="2"/><text x="601.2" y="1002.3">meccanismi<tspan x="601.2" dy="6.4">neurofisiologici dolore</tspan></text></g>
<g id="n_neurog" class="nd"><rect x="635" y="983.3" width="61.3" height="10.5" rx="2"/><text x="665.7" y="990.5">neurogenici periferici</text></g>
<g id="n_nocic2" class="nd"><rect x="666.6" y="1005.1" width="31.6" height="9.2" rx="2"/><text x="682.4" y="1011.6">nocicettivi</text></g>
<g id="n_delsnc" class="nd"><rect x="629.1" y="1020.3" width="81.8" height="17.5" rx="2"/><text x="670" y="1027.8">del snc<tspan x="670" dy="6.4">(daranno falsi positivi al e/o)</tspan></text></g>
<g id="n_predisp" class="nd"><rect x="378" y="1054.6" width="127.7" height="16.2" rx="2"/><text x="441.9" y="1061.4">predisponenti / associati<tspan x="441.9" dy="6.4">coinvolti nel eziol. o mantenimento o recidive</tspan></text></g>
<g id="n_biomecc" class="nd"><rect x="544.1" y="1049.3" width="107.9" height="16.2" rx="2"/><text x="598.1" y="1056.1">biomeccanici (posture che producono<tspan x="598.1" dy="6.4">ischemia, schemi di reclutamento)</tspan></text></g>
<g id="n_emotivi" class="nd"><rect x="551.2" y="1068" width="80.6" height="36.2" rx="2"/><text x="591.5" y="1075.2">emotivi (fiducia)<tspan x="591.5" dy="6.4">cognitivi (conoscenza probl)</tspan><tspan x="591.5" dy="6.4">socio-culturali (valori)</tspan><tspan x="591.5" dy="6.4">ambientali</tspan><tspan x="591.5" dy="6.4">comportamentali</tspan></text></g>
<g id="n_determ" class="nd"><rect x="311.6" y="1073.2" width="71.2" height="22" rx="2"/><text x="347.2" y="1079.7">determinate da ipotesi<tspan x="347.2" dy="6.4">su processi pato-biol</tspan><tspan x="347.2" dy="6.4">e meccanismi neurofisiol</tspan></text></g>
<g id="n_procpb" class="nd"><rect x="417.6" y="1094.9" width="94.8" height="29" rx="2"/><text x="465" y="1101.7">processi pato-biol<tspan x="465" dy="6.4">meccanismi tissutali</tspan><tspan x="465" dy="6.4">fasi guarigione tessuto</tspan><tspan x="465" dy="6.4">meccanismi neurofisiol del dolore</tspan></text></g>
<g id="n_irrsev" class="nd"><rect x="406.9" y="1130.7" width="70" height="10.2" rx="2"/><text class="k" x="441.9" y="1137.7">IRRITABILITÀ E SEVERITÀ</text></g>
<g id="n_stabilita" class="nd"><rect x="406.9" y="1145.9" width="30.4" height="10.2" rx="2"/><text class="k" x="422.1" y="1152.9">STABILITÀ</text></g>
<g id="n_aspett" class="nd"><rect x="354.3" y="1140.5" width="33.6" height="16.6" rx="2"/><text x="371.1" y="1147.5">aspettative<tspan x="371.1" dy="6.4">paziente</tspan></text></g>
<g id="n_salgen" class="nd"><rect x="378" y="1159.7" width="45.5" height="10.9" rx="2"/><text x="400.8" y="1167.1">salute generale</text></g>
<g id="n_irritab" class="nd"><rect x="545.3" y="1132.6" width="128.4" height="15.9" rx="2"/><text x="609.5" y="1139.3">se c'è irritab/sever con meccanismi nocicettivi<tspan x="609.5" dy="6.4">allora trattare fino a P1</tspan></text></g>
<g id="n_irrcen" class="nd"><rect x="545.3" y="1152" width="154.9" height="23.6" rx="2"/><text x="622.8" y="1159.3">se c'è irr/sever con meccanismi centrali<tspan x="622.8" dy="6.4">allora comportamento di fuga (maladattamento centrale</tspan><tspan x="622.8" dy="6.4">a causa dei processi di apprendimento)</tspan></text></g>

<g id="n_esfis" class="nd"><ellipse cx="185" cy="1218" rx="31" ry="11.8"/><text class="ti" x="185" y="1220.7">esame fisico</text></g>
<g id="n_trovare" class="nd"><rect x="419.1" y="1223.6" width="78.6" height="10.4" rx="2"/><text x="458.4" y="1230.7">trovare segno paragonabile</text></g>
<g id="n_combin" class="nd"><rect x="527.9" y="1221.3" width="180.5" height="15" rx="1"/><text x="618.2" y="1227.5">combinazione di dolore, rigidità o altro che<tspan x="618.2" dy="6.4">l'esaminatore scopre durante l'e/o  e considera riferibile ai sintomi</tspan></text></g>
<g id="n_meno" class="nd"><rect x="529.8" y="1244.5" width="51.2" height="8.8"/><text x="531" y="1250.8" style="text-anchor:start">meno signifi</text></g>
<g id="n_riprod" class="nd"><rect x="422.1" y="1243.8" width="54.8" height="10.5" rx="2"/><text x="449.5" y="1251">riprodurre sintomi</text></g>
<g id="n_piu" class="nd"><rect x="529.5" y="1265.8" width="43.5" height="7.9"/><text x="531" y="1271.6" style="text-anchor:start">più significa</text></g>
<g id="n_trovdisf" class="nd"><rect x="338.3" y="1270.3" width="145.4" height="10" rx="2"/><text x="411" y="1277.2">trovare disfunzioni di movimento e lesioni strutturali</text></g>
<g id="n_unadiag" class="nd"><rect x="472" y="1289.1" width="100" height="14.8" rx="1"/><text x="473" y="1295.4" style="text-anchor:start">una diagnosi strutturale non può<tspan x="473" dy="6.5">i test dell'esame fisico sollecitano</tspan></text></g>
<g id="n_servono" class="nd"><rect x="507.9" y="1318.6" width="67" height="25.2"/><text x="541" y="1323.9">servono:</text><text x="514.5" y="1330.1" style="text-anchor:start">-riscontri soggetti</text><text x="512" y="1336.2" style="text-anchor:start">-riscontri dei test e</text><text x="541" y="1342.6">-reazioni al trattamento</text></g>
<g id="c_riprod"><rect class="cn" x="564.5" y="1236.3" width="174.9" height="101.4" rx="2"/><use xlink:href="#col" x="741.3" y="1286.7"/></g>
<g id="connectors_inner">
<path d="M641,1254.3L642.5,1257.5"/><path d="M643.5,1263L643.8,1265.8"/><path d="M648.5,1279.9L649.5,1283"/><path d="M650,1290L650.5,1292.8"/><path d="M650.5,1307.3L650,1310"/><path d="M649.6,1316L649.3,1318"/>
</g>
<g id="n_riprodsint" class="nd"><rect x="592.9" y="1241.2" width="96.3" height="13.1"/><text class="k" x="641.1" y="1246.5">RIPRODUZIONE SINTOMI<tspan x="641.1" dy="6.4">PRODUZIONE SEGNI PARAGONABILI</tspan></text></g>
<g id="n_individ" class="nd"><rect x="568.7" y="1265.8" width="153.7" height="14.1"/><text x="645.6" y="1271.6">individuare movimenti e direzioni di movimento anomali<tspan x="645.6" dy="6.4">(disfunzioni di movimento)</tspan></text></g>
<g id="n_differ" class="nd"><rect x="572.5" y="1292.8" width="162" height="14.5"/><text x="653.5" y="1298.8">Differenziare le componenti delle disfunzioni di movimento<tspan x="653.5" dy="6.4">(diagnosi di movimento)</tspan></text></g>
<g id="n_possib" class="nd"><rect x="604.2" y="1318" width="86.1" height="14.9"/><text x="647.3" y="1324.2">possibile analisi delle strutture<tspan x="647.3" dy="6.4">(diagnosi strutturale)</tspan></text></g>

<g id="n_osserv" class="nd"><rect x="49.8" y="1350.4" width="52.3" height="10.6" rx="2"/><text class="k" x="76" y="1357.6">1) OSSERVAZIONE</text></g>
<g id="n_dimostr" class="nd"><rect x="123" y="1352.2" width="91.6" height="10.8" rx="2"/><text class="k" x="168.8" y="1359.5">2) DIMOSTRAZIONE FUNZIONALE</text></g>
<g id="n_differenz" class="nd"><rect x="240.8" y="1354" width="61.2" height="10.5" rx="2"/><text class="k" x="271.4" y="1361.2">3) DIFFERENZIAZIONE</text></g>
<g id="n_movatt" class="nd"><rect x="318.6" y="1355.1" width="62.7" height="10.5" rx="2"/><text class="k" x="350" y="1362.3">4) MOVIMENTI ATTIVI</text></g>
<g id="n_movpas" class="nd"><rect x="394.9" y="1355.4" width="64.3" height="10.5" rx="2"/><text class="k" x="427.1" y="1362.6">9) MOVIMENTI PASSIVI</text></g>
<g id="n_test" class="nd"><rect x="484.5" y="1355.8" width="47.2" height="10.1" rx="2"/><text class="k" x="508.1" y="1362.8">7)TEST SPECIALI</text></g>
<g id="n_altre" class="nd"><rect x="546" y="1355.1" width="61.2" height="10.5" rx="2"/><text class="k" x="576.6" y="1362.3">6) ALTRE STRUTTURE</text></g>
<g id="n_isom" class="nd"><rect x="633.6" y="1355.8" width="40.8" height="9.8" rx="2"/><text class="k" x="654" y="1362.6">5) ISOMETRIA</text></g>
<g id="n_palp" class="nd"><rect x="704.6" y="1356.1" width="44.3" height="10.6" rx="2"/><text class="k" x="726.8" y="1363.3">8) PALPAZIONE</text></g>
<g id="n_infoall" class="nd"><rect x="4.9" y="1401" width="59.7" height="9.5" rx="2"/><text x="34.8" y="1407.7">info su allineamento</text></g>
<g id="n_ogen" class="nd"><rect x="4.9" y="1465.7" width="52.6" height="22.7" rx="2"/><text x="31.2" y="1470.9">o. generale<tspan x="31.2" dy="6.4">(frontale, laterale,</tspan><tspan x="31.2" dy="6.4">dorsale)</tspan></text></g>
<g id="n_oloc" class="nd"><rect x="66.4" y="1462.6" width="69.5" height="23.6" rx="2"/><text x="101.2" y="1468">o. localizzata<tspan x="101.2" dy="6.4">(alterazione cute e</tspan><tspan x="101.2" dy="6.4">allineamento capi ossei)</tspan></text></g>
<g id="n_present" class="nd"><rect x="127.6" y="1491.5" width="25.5" height="15.9" rx="2"/><text x="140.4" y="1498.2">present<tspan x="140.4" dy="6.4">pain</tspan></text></g>
<g id="n_prontezza" class="nd"><rect x="16" y="1495.2" width="103.9" height="16.9" rx="2"/><text x="68" y="1502.6">prontezza dei movimenti<tspan x="68" dy="6.4">(svestirsi, alzarsi, mettersi su lettino)</tspan></text></g>
<g id="n_perche" class="nd"><rect x="14.4" y="1536.6" width="121.2" height="29.9" rx="2"/><text x="75" y="1543.7">perchè le anomalie posturali possono non<tspan x="75" dy="6.4">essere clinicamente rilevanti è</tspan><tspan x="75" dy="6.4">utile correggere le anomalie (per riprodurre</tspan><tspan x="75" dy="6.4">o alleviare i sintomi)</tspan></text></g>
<g id="n_comeast" class="nd"><rect x="72.9" y="1368.4" width="90.6" height="10.1" rx="2"/><text x="118.2" y="1375.4">come asterisco dell'esame fisico</text></g>
<g id="n_cequal" class="nd"><rect x="84.8" y="1389.4" width="102.1" height="17.4" rx="2"/><text x="135.9" y="1396.8">c'è qualche cosa/movimento che mi<tspan x="135.9" dy="6.4">può mostrare che provoca i sintomi?</tspan></text></g>
<g id="n_fase" class="nd"><rect x="140.8" y="1424.3" width="172.7" height="23.6" rx="2"/><text x="227.2" y="1429.7">-fase del movimento che riproduce i<tspan x="227.2" dy="6.4">sintomi</tspan><tspan x="227.2" dy="6.4">- comportamento del sintomo durante movimento/o più mov.i</tspan></text></g>
<g id="n_rimane" class="nd"><rect x="180.1" y="1459.5" width="60.3" height="17.3" rx="2"/><text x="210.3" y="1466.9">rimane lo stesso<tspan x="210.3" dy="6.4">dopo più movimento</tspan></text></g>
<g id="n_dolaum" class="nd"><rect x="194.6" y="1482.5" width="60.2" height="17.5" rx="2"/><text x="224.7" y="1490">dolore aumenta con<tspan x="224.7" dy="6.4">pià movimenti</tspan></text></g>
<g id="n_doldim" class="nd"><rect x="215.8" y="1503.2" width="55" height="17.5" rx="2"/><text x="243.3" y="1510.8">dolore diminuisce<tspan x="243.3" dy="6.4">con più movimenti</tspan></text></g>
<g id="n_eor" class="nd"><rect x="294.5" y="1504.7" width="65.8" height="17" rx="2"/><text x="327.4" y="1512">sintomi sono EOR<tspan x="327.4" dy="6.4">e trattamento grado IV</tspan></text></g>
<g id="n_civog" class="nd"><rect x="233" y="1523.9" width="66.7" height="17.4" rx="2"/><text x="266.4" y="1531.4">ci vogliono più mov.i<tspan x="266.4" dy="6.4">per riprodurre sintomo</tspan></text></g>
<g id="n_range" class="nd"><rect x="324.3" y="1524.3" width="130.7" height="17.8" rx="2"/><text x="389.7" y="1532">sintomi sono lungo il Range<tspan x="389.7" dy="6.4">e trattamento grandi ampiezze lente e costanti</tspan></text></g>
<g id="n_determ2" class="nd"><rect x="229.5" y="1392.1" width="103.9" height="10.7" rx="2"/><text x="281.5" y="1399.3">determinare le componenti principali</text></g>
</g>

<!-- linking phrases -->
<g id="labels">
<text x="166.6" y="25.2">propedeutico<tspan x="166.6" dy="6.3">per</tspan></text>
<text x="83" y="64.2">su</text>
<text x="325" y="16">è essenziale<tspan x="325" dy="6.5">per (trattamento</tspan><tspan x="325" dy="6.5">e misurazione)</tspan></text>
<text x="424.2" y="12">con anche</text>
<text x="421.1" y="56.4">compresi<tspan x="421.1" dy="6.5">obbiett</tspan><tspan x="421.1" dy="6.5">su</tspan></text>
<text x="254.2" y="165.6">scopi</text>
<text x="337.6" y="220.3">e'</text>
<text x="360.7" y="245.3">scopi</text>
<text x="270.6" y="302.5">fasi</text>
<text x="679.6" y="266.8">D1) Per quel che la riguarda qual'è<tspan x="679.6" dy="6.25">il suo problema principale in questo</tspan><tspan x="679.6" dy="6.25">momento?</tspan></text>
<text x="984.8" y="282.5">ma<tspan x="984.8" dy="6.4">anche su</tspan></text>
<text x="563" y="325.7">sono necessarie<tspan x="563" dy="6.3">info su</tspan></text>
<text x="827.2" y="331.1">se clinica<tspan x="827.2" dy="6.3">atipica</tspan></text>
<text x="938.6" y="326.1">cioè</text>
<text x="1172.5" y="351.9">si</text>
<text x="1213.5" y="350.8">no</text>
<text x="1150.2" y="387.6">si</text>
<text x="1189" y="389.5">no</text>
<text x="832.3" y="452.5">DD<tspan x="832.3" dy="6.4">(meccanismi</tspan><tspan x="832.3" dy="6.4">tissutali)</tspan></text>
<text x="832.3" y="494">meccanismi<tspan x="832.3" dy="6.4">neurofisiologici</tspan><tspan x="832.3" dy="6.4">(anche combinati</tspan><tspan x="832.3" dy="6.4">assieme)</tspan></text>
<text x="839.8" y="536.4">concetto delle<tspan x="839.8" dy="6.6">componenti</tspan></text>
<text x="835.7" y="573.5">precauzioni</text>
<text x="823.1" y="616.3">considerare la variabilità, la multifattorialità<tspan x="823.1" dy="6.4">dei sintomi e che 1 lesione</tspan><tspan x="823.1" dy="6.4">danneggia più strutture che riferiscono</tspan><tspan x="823.1" dy="6.4">diversi sintomi</tspan></text>
<text x="963.7" y="716.5">provoca</text>
<text x="988" y="716.1">provoca</text>
<text x="966.2" y="744">presenta</text>
<text class="k" x="359.7" y="370">INFO SU</text>
<text x="455.1" y="372.9">cioè</text>
<text x="458.2" y="420.2">es</text>
<text class="k" x="302.9" y="489.6">ANDAMENTO<tspan x="302.9" dy="6.2">24ORE</tspan></text>
<text class="k" x="340.7" y="486.6">ANDAMENTO<tspan x="340.7" dy="6.3">7GIORNI</tspan></text>
<text x="417" y="477">associare attivita' vita<tspan x="417" dy="6.4">quotidiana ai sintomi</tspan><tspan x="417" dy="6.4">(valutazioni soggettive diventano</tspan><tspan x="417" dy="6.4">quantificabili)</tspan><tspan class="k" x="417" dy="6.4">ASTERISCHI SOGGETTIVI</tspan></text>
<text x="328.1" y="616.1">poi</text>
<text x="587" y="544.6">poi<tspan x="587" dy="6.4">domande piu</tspan><tspan x="587" dy="6.4">generali non</tspan><tspan x="587" dy="6.4">attivita specifiche</tspan></text>
<text x="601.6" y="674.9">dd</text>
<text x="605.4" y="733.4">se rigidita<tspan x="605.4" dy="6.2">e dolore</tspan></text>
<text x="78.4" y="600.6">sondare qualsiasi<tspan x="78.4" dy="6.4">pericolo</tspan></text>
<text x="298.8" y="782.2">traumatico</text>
<text x="285" y="799.1">spontaneo</text>
<text x="317.9" y="892.8">ricercare</text>
<text x="320.7" y="982.6">riflessione su esame<tspan x="320.7" dy="6.4">soggettivo</tspan></text>
<text x="203.3" y="1004.4">pianificazione<tspan x="203.3" dy="6.5">e/o</tspan></text>
<text x="182.4" y="1045.7">fino</text>
<text x="249.6" y="1047.4">fino</text>
<text x="284.4" y="1001.9">ipotesi<tspan x="284.4" dy="6.1">su</tspan></text>
<text x="410.9" y="1023.9">fonti</text>
<text x="534.2" y="1016.2">ponderate<tspan x="534.2" dy="6.3">tramite</tspan></text>
<text x="643.7" y="1006.5">o</text>
<text x="393.8" y="1045.4">fattori contribuenti</text>
<text x="347.2" y="1052.2">precauzioni<tspan x="347.2" dy="6.5">all' e/o</tspan></text>
<text x="526.3" y="1059.7">sono</text>
<text x="378" y="1110.1">riguardano</text>
<text x="501.8" y="1148.5">da ponderare perchè</text>
<g id="label_bg">
<rect class="lbg" x="390.9" y="1216.7" width="17.2" height="6.2"/>
<rect class="lbg" x="505.7" y="1228" width="12.6" height="6.2"/>
<rect class="lbg" x="479.2" y="1236" width="14.2" height="6.2"/>
<rect class="lbg" x="493.2" y="1257.1" width="14.2" height="6.2"/>
<rect class="lbg" x="442.4" y="1291.8" width="10" height="6.2"/>
<rect class="lbg" x="535.9" y="1307.9" width="18" height="6.2"/>
<rect class="lbg" x="636.6" y="1257.8" width="13" height="6.2"/>
<rect class="lbg" x="643.4" y="1283.8" width="13" height="6.2"/>
<rect class="lbg" x="643.4" y="1310.6" width="13" height="6.2"/>
<rect class="lbg" x="295.7" y="1306.9" width="36" height="6.2"/>
<rect class="lbg" x="28.9" y="1381.3" width="17.2" height="6.2"/>
<rect class="lbg" x="48.4" y="1446.4" width="25" height="6.2"/>
<rect class="lbg" x="35.6" y="1523.2" width="83.8" height="6.2"/>
<rect class="lbg" x="146.5" y="1377.6" width="6.4" height="6.2"/>
<rect class="lbg" x="191" y="1412.8" width="25" height="6.2"/>
<rect class="lbg" x="213.8" y="1451.1" width="12.6" height="6.2"/>
<rect class="lbg" x="272" y="1509.2" width="16.6" height="6.2"/>
<rect class="lbg" x="302.2" y="1530.9" width="16.6" height="6.2"/>
<rect class="lbg" x="268.1" y="1375.9" width="17.2" height="6.2"/>
</g>
<text x="399.5" y="1221.2">scopo</text>
<text x="512" y="1232.5">cioè</text>
<text x="486.3" y="1240.5">sono</text>
<text x="500.3" y="1261.6">sono</text>
<text x="447.4" y="1296.3">ma</text>
<text x="544.9" y="1312.4">quindi</text>
<text x="643.1" y="1262.3">????</text>
<text x="649.9" y="1288.3">????</text>
<text x="649.9" y="1315.1">????</text>
<text x="313.7" y="1311.4">elementi/fasi</text>
<text x="37.5" y="1385.8">scopo</text>
<text x="60.9" y="1450.9">elementi</text>
<text x="77.5" y="1527.7">correzione deformità protettive</text>
<text x="143.6" y="1366.9">scopo</text>
<text x="149.7" y="1382.1">di</text>
<text x="203.5" y="1417.3">elementi</text>
<text x="220.1" y="1455.6">cioè</text>
<text x="280.3" y="1513.7">allora</text>
<text x="310.5" y="1535.4">allora</text>
<text x="276.7" y="1380.4">scopo</text>
</g>
</g>
</svg>
